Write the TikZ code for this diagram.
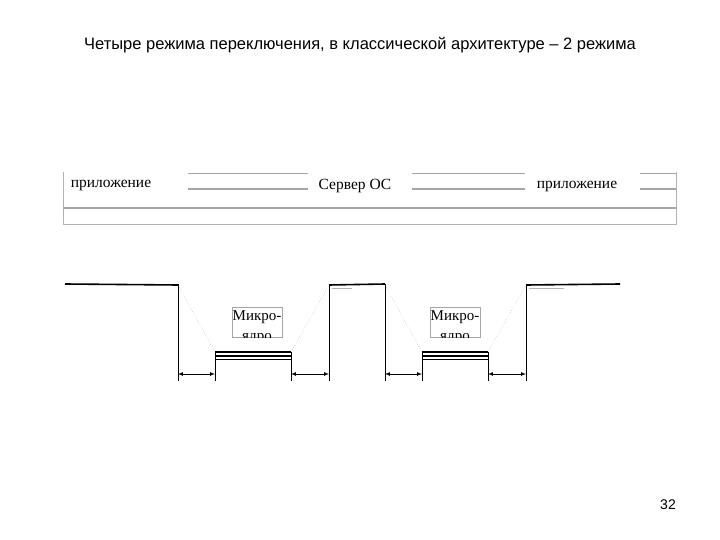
\documentclass[tikz,border=0pt]{standalone}
\usepackage{fontspec}
\setmainfont{Liberation Serif}
\newfontfamily\arialf{Liberation Sans}
\begin{document}
\begin{tikzpicture}[x=1pt,y=-1pt,
  thin gray/.style={draw=gray!70,line width=0.8pt},
  lvl/.style={line width=1.6pt},
  vl/.style={line width=0.7pt},
  slope/.style={draw=gray!60,line width=0.5pt,dotted},
  dim/.style={<->,>=latex,line width=0.7pt},
  mk/.style={draw=gray!70,line width=0.5pt,minimum width=50pt,minimum height=30pt,inner sep=0pt},
  lbl/.style={font=\fontsize{15.5}{17}\selectfont,inner sep=1pt}]
\useasboundingbox (0,0) rectangle (720,540);
\node[font=\arialf\fontsize{16.5}{19}\selectfont] (title) at (360,45) {Четыре режима переключения, в классической архитектуре – 2 режима};
\node[font=\arialf\fontsize{14}{16}\selectfont] (pg) at (668,505) {32};
% top band
\draw[draw=gray!60,line width=0.6pt] (63,172) -- (63,224) -- (676,224) -- (676,172);
\draw[draw=gray!70,line width=2pt] (63,208) -- (676,208);
\foreach \a/\b in {188/308,412/525,640/676}{
  \draw[thin gray] (\a,173) -- (\b,173);
  \draw[thin gray,line width=1.2pt] (\a,189) -- (\b,189);}
\node[lbl] (app1) at (111,185) {приложение};
\node[lbl] (srv) at (355,186) {Сервер ОС};
\node[lbl] (app2) at (577,186) {приложение};
% levels
\draw[lvl] (65,284) -- (178,285);
\draw[lvl] (329,285) -- (385,284);
\draw[lvl] (526,285) -- (620,284);
\draw[draw=gray!60,line width=1pt] (332,288) -- (352,288) (529,288) -- (564,288);
\foreach \x in {178,215,291,329,385,422,488,526}{\draw[vl] (\x,{\x==178||\x==329||\x==385||\x==526 ? 284 : 352}) -- (\x,381);}
\foreach \a/\b in {215/291,422/488}{
  \draw[line width=1.3pt] (\a,352) -- (\b,352) (\a,356) -- (\b,356);
  \draw[line width=0.8pt] (\a,359.5) -- (\b,359.5);}
\draw[slope] (178,285) -- (215,352);
\draw[slope] (291,352) -- (329,285);
\draw[slope] (385,285) -- (422,352);
\draw[slope] (488,352) -- (526,285);
\foreach \a/\b in {178/215,291/329,385/422,488/526}{\draw[dim] (\a,374) -- (\b,374);}
\foreach \x/\n in {257/mk1,455/mk2}{
  \node[mk] (\n) at (\x,322) {};
  \begin{scope}
  \clip (\x-25,307) rectangle (\x+25,337);
  \node[align=center,font=\fontsize{15}{20}\selectfont,inner sep=0pt,anchor=north] at (\x,310) {Микро-\\ядро};
  \end{scope}}
\end{tikzpicture}
\end{document}
